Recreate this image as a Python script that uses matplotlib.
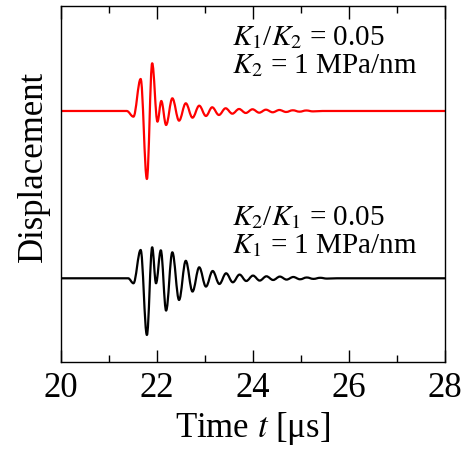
import matplotlib
matplotlib.use("Agg")
import matplotlib.pyplot as plt
from matplotlib.path import Path
from matplotlib.patches import PathPatch
from matplotlib.ticker import MultipleLocator

plt.rcParams['font.family'] = ['Liberation Serif', 'DejaVu Serif']
plt.rcParams['mathtext.fontset'] = 'stix'

# ---- data (arbitrary displacement units) ----
x_range = [20, 28]
x_ticks = [20, 22, 24, 26, 28]

# Red trace (K1/K2 = 0.05): extrema of the waveform
red_t = [20.0, 21.37, 21.51, 21.66, 21.79, 21.90, 22.01, 22.09, 22.19, 22.32,
         22.46, 22.60, 22.74, 22.88, 23.02, 23.15, 23.29, 23.43, 23.57, 23.71,
         23.85, 23.99, 24.13, 24.27, 24.41, 24.55, 24.69, 24.83, 24.97, 25.11,
         25.25, 25.45, 28.0]
red_y = [0, 0, -5.7, 32, -68, 47.7, -10.7, 10, -14, 12.7,
         -9.7, 7.7, -6.7, 5.3, -5, 3.7, -4, 2.7, -2.7, 2,
         -2, 1.7, -1.7, 1.3, -1.3, 1, -1, 0.7, -0.7, 0.5,
         -0.4, 0, 0]
red_offset = 167.3

# Black trace (K2/K1 = 0.05): extrema of the waveform
blk_t = [20.0, 21.40, 21.51, 21.66, 21.79, 21.90, 21.98, 22.08, 22.19, 22.32,
         22.46, 22.60, 22.74, 22.88, 23.02, 23.16, 23.30, 23.44, 23.58, 23.72,
         23.86, 24.00, 24.14, 24.28, 24.42, 24.56, 24.70, 24.84, 24.98, 25.12,
         25.26, 25.40, 25.54, 25.75, 28.0]
blk_y = [0, 0, -5, 28.3, -56.7, 31, -5, 28, -32.3, 26,
         -21.7, 17.5, -13.3, 11, -8.3, 7.3, -5.7, 5, -4, 3.7,
         -2.7, 2.7, -2.3, 2, -1.7, 1.7, -1.3, 1.3, -1, 0.8,
         -0.6, 0.5, -0.3, 0, 0]
blk_offset = 0.0

y_range = [-83.7, 272.3]

red_label = ["$K_1$/$K_2$ = 0.05", "$K_2$ = 1 MPa/nm"]
blk_label = ["$K_2$/$K_1$ = 0.05", "$K_1$ = 1 MPa/nm"]


def smooth_path(ts, ys, offset, k=0.3634):
    """Smooth curve through extrema (horizontal tangent at each point)."""
    verts = [(ts[0], ys[0] + offset)]
    codes = [Path.MOVETO]
    for i in range(1, len(ts)):
        t0, y0 = ts[i - 1], ys[i - 1] + offset
        t1, y1 = ts[i], ys[i] + offset
        dt = t1 - t0
        verts += [(t0 + k * dt, y0), (t1 - k * dt, y1), (t1, y1)]
        codes += [Path.CURVE4] * 3
    return Path(verts, codes)


fig = plt.figure(figsize=(4.68, 4.53), dpi=100)
ax = fig.add_axes([0.1303, 0.2009, 0.8205, 0.7859])

for ts, ys, off, col in [(red_t, red_y, red_offset, '#ff0000'),
                         (blk_t, blk_y, blk_offset, 'black')]:
    ax.add_patch(PathPatch(smooth_path(ts, ys, off), facecolor='none',
                           edgecolor=col, lw=1.6, capstyle='round',
                           joinstyle='round'))

ax.set_xlim(*x_range)
ax.set_ylim(*y_range)
ax.set_xticks(x_ticks)
ax.xaxis.set_minor_locator(MultipleLocator(1))
ax.set_yticks([])
ax.tick_params(axis='x', which='both', direction='in', top=True,
               labelsize=25, pad=7, width=1.0)
ax.tick_params(axis='x', which='major', length=9)
ax.tick_params(axis='x', which='minor', length=5)
for s in ax.spines.values():
    s.set_linewidth(1.0)

ax.set_xlabel("Time $t$ [μs]", fontsize=25, labelpad=4)
ax.set_ylabel("Displacement", fontsize=25)
ax.yaxis.set_label_coords(-0.03, 0.55)

fs = 21
ax.text(23.56, 233.3, red_label[0], fontsize=fs, ha='left', va='baseline')
ax.text(23.56, 205.3, red_label[1], fontsize=fs, ha='left', va='baseline')
ax.text(23.56, 53.3, blk_label[0], fontsize=fs, ha='left', va='baseline')
ax.text(23.56, 25.3, blk_label[1], fontsize=fs, ha='left', va='baseline')

fig.savefig("out.png", dpi=100)
